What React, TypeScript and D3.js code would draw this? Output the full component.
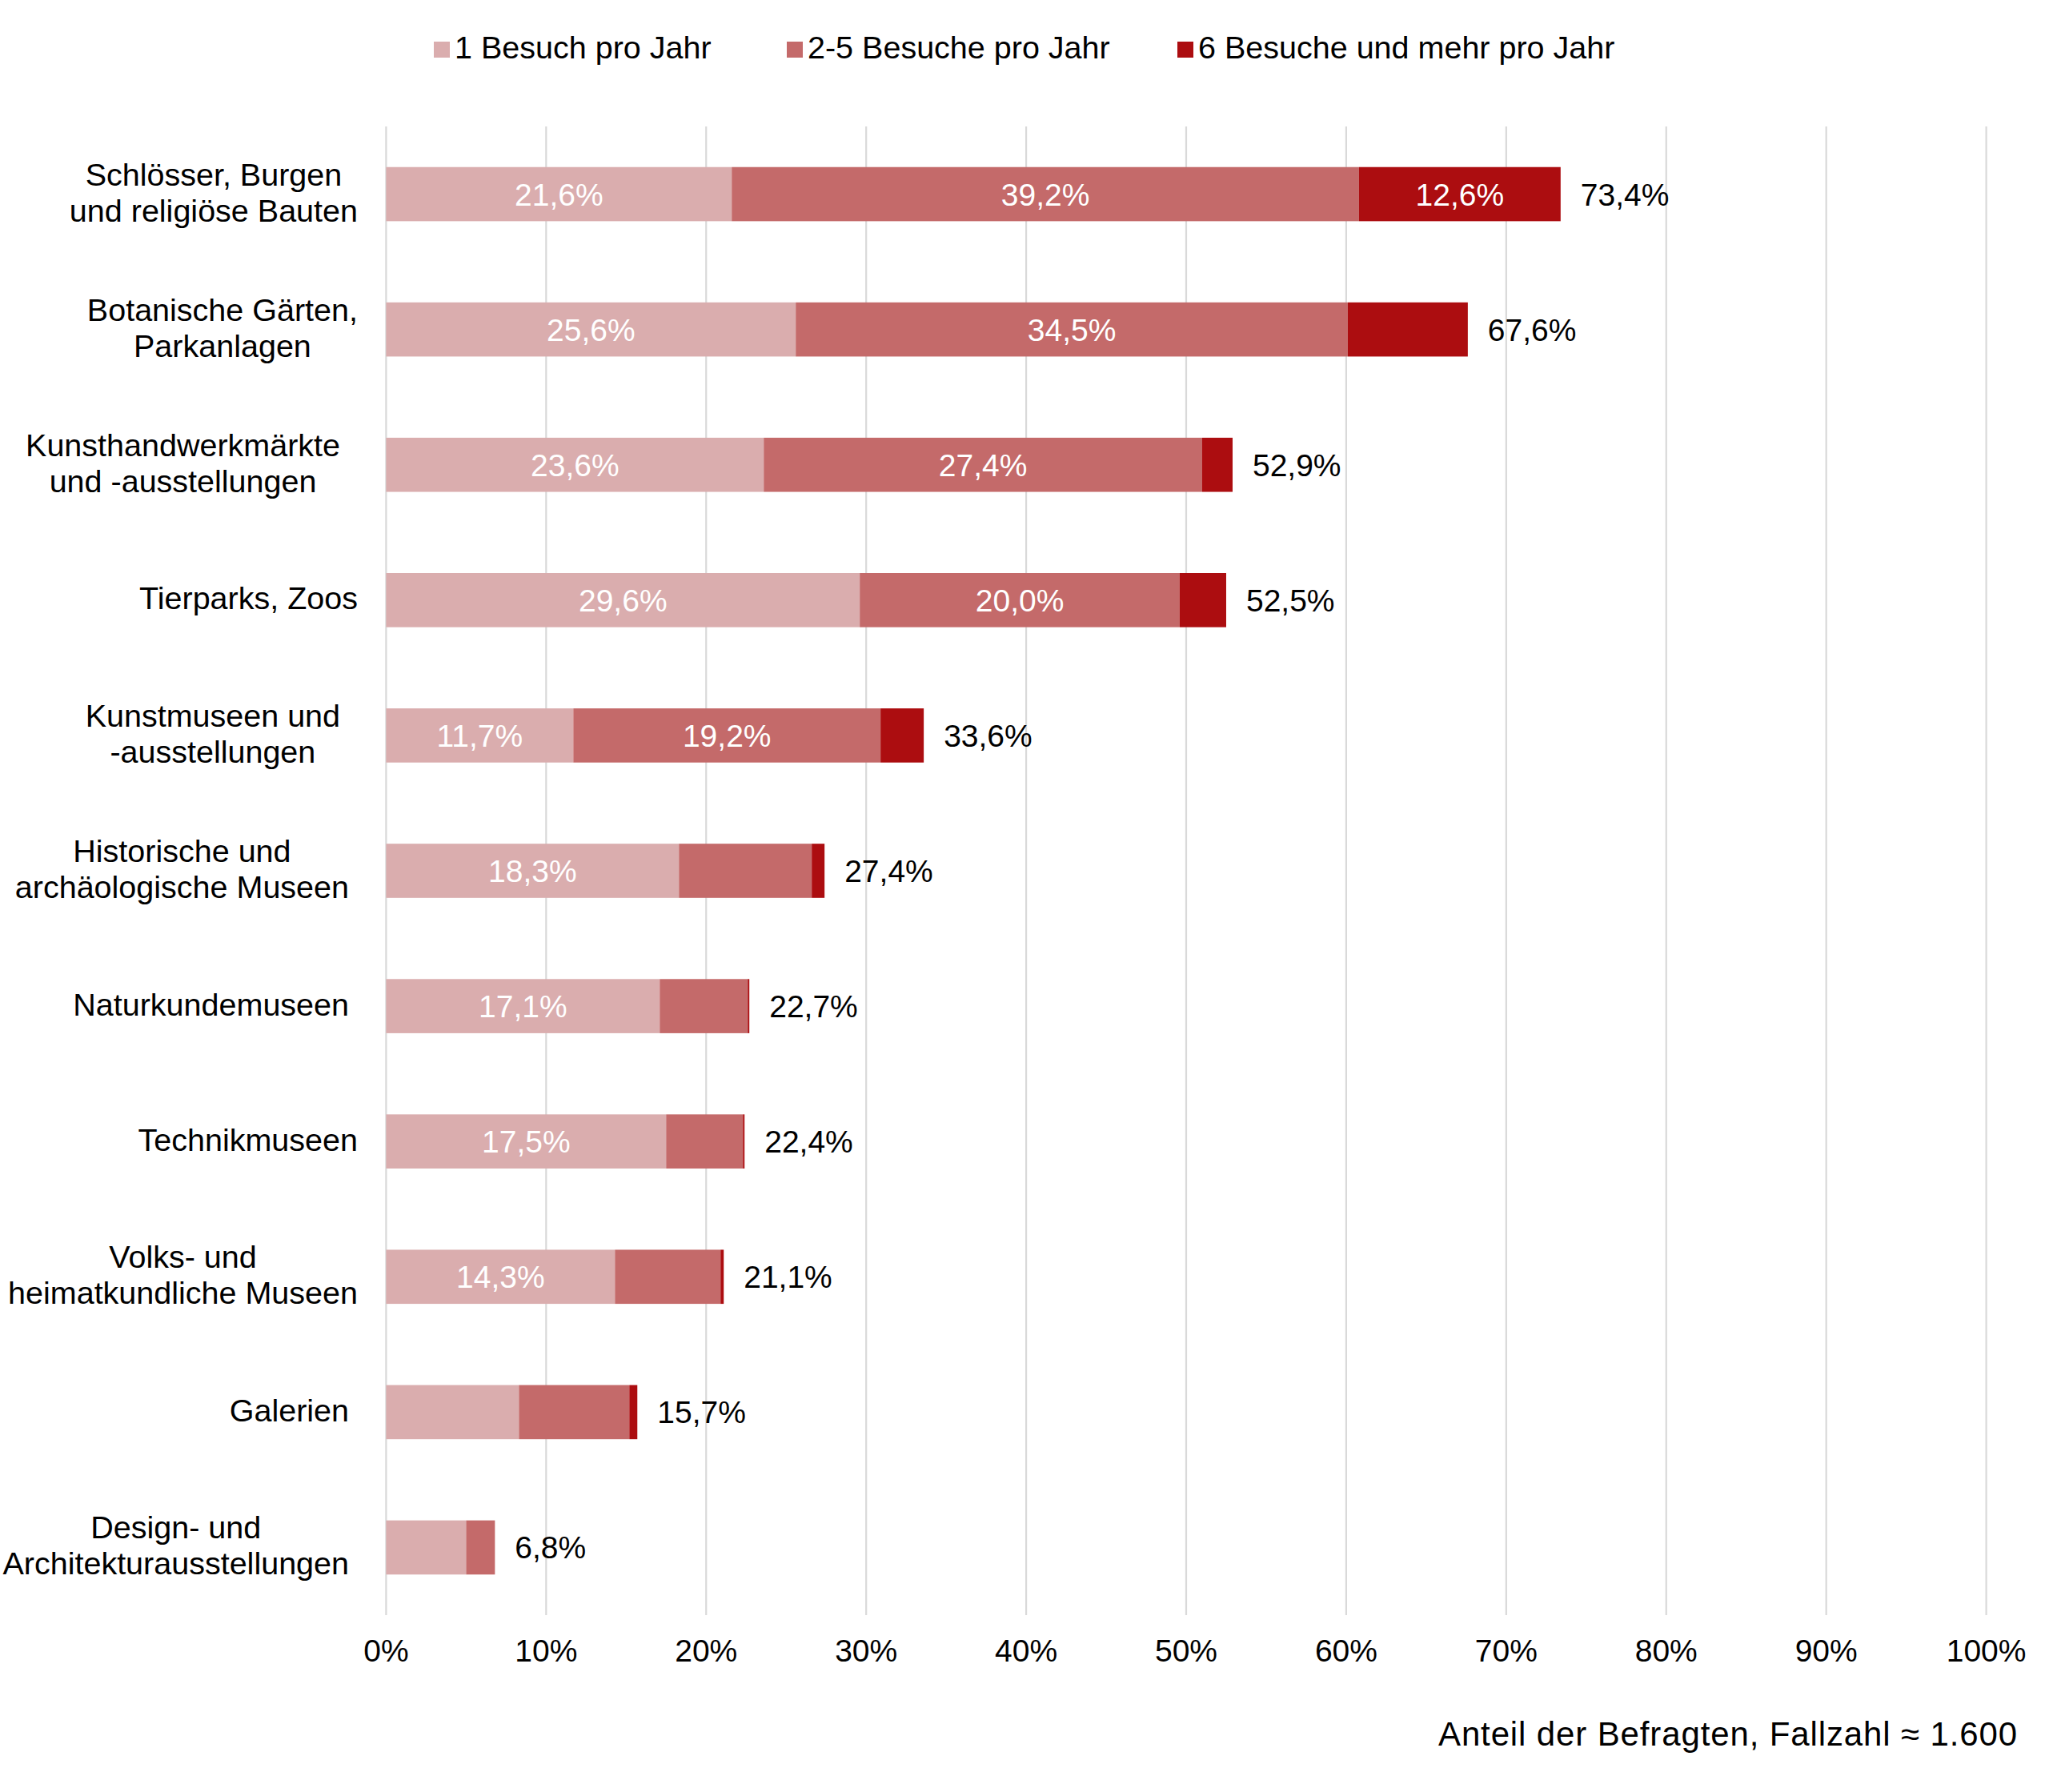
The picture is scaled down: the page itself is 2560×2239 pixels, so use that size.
import React from "react";
import * as d3 from "d3";

const categories = [
  "Schlösser, Burgen\nund religiöse Bauten",
  "Botanische Gärten,\nParkanlagen",
  "Kunsthandwerkmärkte\nund -ausstellungen  ",
  "Tierparks, Zoos",
  "Kunstmuseen und\n-ausstellungen  ",
  "Historische und\narchäologische Museen ",
  "Naturkundemuseen ",
  "Technikmuseen",
  "Volks- und\nheimatkundliche Museen",
  "Galerien ",
  "Design- und\nArchitekturausstellungen ",
];

const seriesNames = ["1 Besuch pro Jahr", "2-5 Besuche pro Jahr", "6 Besuche und mehr pro Jahr"];
const seriesColors = ["#DAADAE", "#C46A6A", "#AC0D10"];

const once = [21.6, 25.6, 23.6, 29.6, 11.7, 18.3, 17.1, 17.5, 14.3, 8.3, 5.0];
const twoToFive = [39.2, 34.5, 27.4, 20.0, 19.2, 8.3, 5.5, 4.8, 6.6, 6.9, 1.8];
const sixPlus = [12.6, 7.5, 1.9, 2.9, 2.7, 0.8, 0.1, 0.1, 0.2, 0.5, 0.0];
const totals = [73.4, 67.6, 52.9, 52.5, 33.6, 27.4, 22.7, 22.4, 21.1, 15.7, 6.8];

const xTicks = [0, 10, 20, 30, 40, 50, 60, 70, 80, 90, 100];
const axisTitle = "Anteil der Befragten, Fallzahl ≈ 1.600";

const W = 2560;
const H = 2239;
const FONT = "'Liberation Sans', Arial, Helvetica, sans-serif";
const FS = 39.5;

let ctx: CanvasRenderingContext2D | null = null;
function textWidth(s: string): number {
  if (!ctx) {
    const c = document.createElement("canvas");
    ctx = c.getContext("2d");
  }
  if (!ctx) return s.length * FS * 0.5;
  ctx.font = `${FS}px 'Liberation Sans', Arial, sans-serif`;
  return ctx.measureText(s).width;
}

const fmt = (v: number) => d3.format(".1f")(v).replace(".", ",") + "%";

export default function App() {
  const x = d3.scaleLinear().domain([0, 100]).range([482.4, 2481.6]);
  const y = d3
    .scaleBand<number>()
    .domain(d3.range(categories.length))
    .range([158, 2018])
    .paddingInner(0.6)
    .paddingOuter(0.3);

  const rows = categories.map((c, i) => ({ i, s0: once[i], s1: twoToFive[i], s2: sixPlus[i] }));
  const stack = d3.stack<any>().keys(["s0", "s1", "s2"]);
  const stacked = stack(rows);

  const bw = y.bandwidth();
  const labelRight = 447;
  const spaceW = textWidth(" ");
  const legendX = [542, 983, 1471];

  return (
    <svg
      width={W}
      height={H}
      viewBox={`0 0 ${W} ${H}`}
      style={{ position: "absolute", left: 0, top: 0, display: "block", background: "#fff" }}
      fontFamily={FONT}
      fontSize={FS}
    >
      <rect x={0} y={0} width={W} height={H} fill="#fff" />
      {/* legend */}
      {seriesNames.map((n, k) => (
        <g key={n}>
          <rect x={legendX[k]} y={52} width={20} height={20} fill={seriesColors[k]} />
          <text x={legendX[k] + 26} y={72.5} fill="#000">
            {n}
          </text>
        </g>
      ))}
      {/* gridlines */}
      {xTicks.map((t) => (
        <line key={t} x1={x(t)} x2={x(t)} y1={158} y2={2018} stroke="#D9D9D9" strokeWidth={2.2} />
      ))}
      {/* bars */}
      {stacked.map((layer, k) => (
        <g key={k} fill={seriesColors[k]}>
          {layer.map((d, i) =>
            d[1] - d[0] > 0 ? (
              <rect key={i} x={x(d[0])} y={y(i)!} width={x(d[1]) - x(d[0])} height={bw} />
            ) : null
          )}
        </g>
      ))}
      {/* inside labels */}
      {stacked.map((layer, k) =>
        layer.map((d, i) =>
          d[1] - d[0] >= 10 ? (
            <text
              key={`l${k}-${i}`}
              x={x((d[0] + d[1]) / 2)}
              y={y(i)! + bw / 2 + 14}
              textAnchor="middle"
              fill="#fff"
              fontSize={39}
            >
              {fmt(d[1] - d[0])}
            </text>
          ) : null
        )
      )}
      {/* totals */}
      {totals.map((t, i) => (
        <text key={`t${i}`} x={x(t) + 25} y={y(i)! + bw / 2 + 14} fill="#000" fontSize={39}>
          {fmt(t)}
        </text>
      ))}
      {/* category labels */}
      {categories.map((c, i) => {
        const trail = c.length - c.trimEnd().length;
        const lines = c.trimEnd().split("\n");
        const maxW = Math.max(...lines.map(textWidth));
        const right = labelRight - trail * spaceW;
        const cx = right - maxW / 2;
        const cy = y(i)! + bw / 2;
        const first = cy + 11.5 - ((lines.length - 1) * 45) / 2;
        return (
          <text key={`c${i}`} textAnchor="middle" fill="#000">
            {lines.map((ln, j) => (
              <tspan key={j} x={cx} y={first + j * 45}>
                {ln}
              </tspan>
            ))}
          </text>
        );
      })}
      {/* x tick labels */}
      {xTicks.map((t) => (
        <text key={`x${t}`} x={x(t)} y={2076} textAnchor="middle" fill="#000" fontSize={39}>
          {t + "%"}
        </text>
      ))}
      <text
        x={2520}
        y={2180.5}
        textAnchor="end"
        fill="#000"
        fontSize={42}
        textLength={723}
        lengthAdjust="spacing"
      >
        {axisTitle}
      </text>
    </svg>
  );
}
